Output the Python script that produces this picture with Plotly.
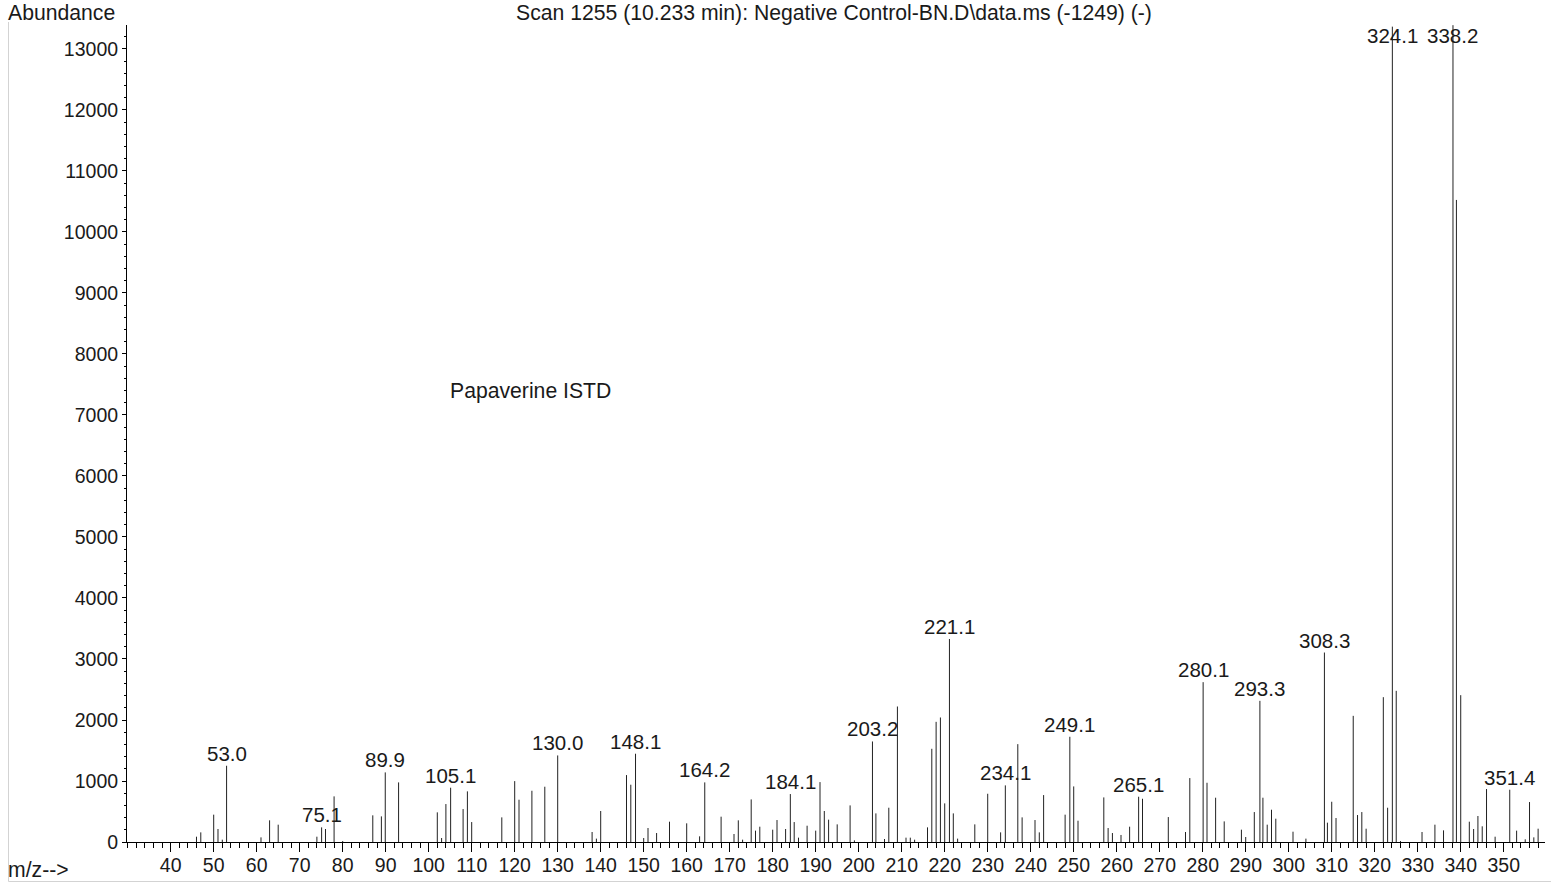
import plotly.graph_objects as go

# Mass spectrum, scan 1255 (10.233 min)
mz = [46, 47, 50, 51, 52, 53.0, 61, 63, 65, 74, 75.1, 76, 78, 80, 87, 89, 89.9, 93,
      102, 103, 104, 105.1, 108, 109, 110, 117, 120, 121, 124, 127, 130.0, 138, 139,
      140, 146, 147, 148.1, 150, 151, 153, 156, 160, 163, 164.2, 168, 171, 172, 173,
      175, 176, 177, 180, 181, 183, 184.1, 185, 186, 188, 190, 191, 192, 193, 195,
      198, 199, 203.2, 204, 206, 207, 209, 211, 212, 213, 216, 217, 218, 219, 220,
      221.1, 222, 223, 227, 230, 233, 234.1, 237, 238, 241, 242, 243, 248, 249.1,
      250, 251, 257, 258, 259, 261, 263, 265.1, 266, 272, 276, 277, 280.1, 281, 283,
      285, 289, 290, 292, 293.3, 294, 295, 296, 297, 301, 304, 308.3, 309, 310, 311,
      315, 316, 317, 318, 322, 323, 324.1, 325, 326, 331, 334, 336, 338.2, 339, 340,
      342, 343, 344, 345, 346, 348, 351.4, 353, 355, 356, 357, 358]
abundance = [87, 158, 448, 213, 38, 1250, 76, 355, 284, 87, 240, 213, 748, 16, 437, 420,
             1141, 977, 486, 65, 622, 890, 540, 830, 327, 404, 998, 693, 840, 906, 1419,
             164, 55, 508, 1097, 939, 1447, 65, 229, 147, 333, 306, 93, 977, 415, 131,
             355, 38, 698, 186, 251, 202, 360, 213, 786, 327, 71, 267, 186, 982, 508,
             366, 289, 600, 27, 1648, 469, 49, 562, 2221, 71, 71, 38, 240, 1528, 1970,
             2041, 633, 3328, 469, 55, 289, 791, 158, 928, 1604, 404, 360, 158, 769,
             448, 1725, 911, 349, 731, 229, 147, 115, 251, 742, 709, 409, 164, 1048,
             2620, 971, 726, 338, 202, 82, 491, 2314, 726, 284, 529, 382, 169, 55, 3106,
             317, 660, 393, 2068, 442, 491, 218, 2374, 562, 13366, 2478, 16, 164, 284,
             191, 13390, 10525, 2407, 333, 213, 426, 257, 868, 87, 857, 186, 44, 655,
             76, 218]

# Peaks annotated with their m/z
labeled_mz = [53.0, 75.1, 89.9, 105.1, 130.0, 148.1, 164.2, 184.1, 203.2, 221.1, 234.1,
              249.1, 265.1, 280.1, 293.3, 308.3, 324.1, 338.2, 351.4]

x_ticks = list(range(40, 351, 10))
y_ticks = list(range(0, 13001, 1000))

X_RANGE = [29.84, 359.6]
Y_RANGE = [0, 13393]
LABEL_CAP = 13010  # labels of off-scale peaks sit just under the top edge

FONT = "Liberation Sans, Arial, Helvetica, sans-serif"
FS_TICK = 19.5
FS_PEAK = 20.5
FS_TEXT = 21.2
INK = "#1a1a1a"
W, H = 1551, 888
ML, MR, MT, MB = 127, 6, 25, 46
pw, ph = W - ML - MR, H - MT - MB


def px_to_paper_x(px):
    return (px - ML) / pw


def px_to_paper_y(py):
    return (H - MB - py) / ph


# stick spectrum: one vertical segment per peak
xs, ys = [], []
for m, a in zip(mz, abundance):
    xs += [m, m, None]
    ys += [0, a, None]

fig = go.Figure(go.Scatter(x=xs, y=ys, mode="lines",
                           line=dict(color="#222222", width=1),
                           hoverinfo="skip", showlegend=False))

peak_height = dict(zip(mz, abundance))
annotations = []
for m in labeled_mz:
    annotations.append(dict(x=m, y=min(peak_height[m], LABEL_CAP), xref="x", yref="y",
                            text=f"{m:.1f}", showarrow=False, xanchor="center",
                            yanchor="bottom", yshift=-1,
                            font=dict(family=FONT, size=FS_PEAK, color=INK)))


def page_text(text, px, py, anchor):
    return dict(x=px_to_paper_x(px), y=px_to_paper_y(py), xref="paper", yref="paper",
                text=text, showarrow=False, xanchor=anchor, yanchor="middle",
                font=dict(family=FONT, size=FS_TEXT, color=INK))


annotations += [
    page_text("Abundance", 6, 12.5, "left"),
    page_text("Scan 1255 (10.233 min): Negative Control-BN.D\\data.ms (-1249) (-)",
              834, 13, "center"),
    page_text("m/z-->", 6, 869.5, "left"),
    dict(x=104.4, y=7400, xref="x", yref="y", text="Papaverine ISTD",
         showarrow=False, xanchor="left", yanchor="middle",
         font=dict(family=FONT, size=FS_TEXT, color=INK)),
]

# light frame on the left and bottom of the page
frame = "#d3d3d3"
shapes = [
    dict(type="line", xref="paper", yref="paper",
         x0=px_to_paper_x(8.5), x1=px_to_paper_x(8.5),
         y0=px_to_paper_y(22), y1=px_to_paper_y(881.5),
         line=dict(color=frame, width=1)),
    dict(type="line", xref="paper", yref="paper",
         x0=px_to_paper_x(8.5), x1=px_to_paper_x(W),
         y0=px_to_paper_y(881.5), y1=px_to_paper_y(881.5),
         line=dict(color=frame, width=1)),
]

axis_common = dict(showgrid=False, zeroline=False, showline=True, linecolor="#000000",
                   linewidth=1, ticks="outside", tickcolor="#000000", tickwidth=1,
                   tickfont=dict(family=FONT, size=FS_TICK, color=INK), tickmode="array")

fig.update_layout(
    width=W, height=H,
    margin=dict(l=ML, r=MR, t=MT, b=MB, pad=0),
    paper_bgcolor="white", plot_bgcolor="white",
    xaxis=dict(range=X_RANGE, tickvals=x_ticks, ticktext=[str(v) for v in x_ticks],
               ticklen=9, ticklabelstandoff=-3,
               minor=dict(dtick=2, tick0=0, ticks="outside", ticklen=5,
                          tickcolor="#000000", tickwidth=1),
               **axis_common),
    yaxis=dict(range=Y_RANGE, tickvals=y_ticks, ticktext=[str(v) for v in y_ticks],
               ticklen=4, minor=dict(dtick=200, tick0=0, ticks="outside", ticklen=2,
                                     tickcolor="#000000", tickwidth=1),
               **axis_common),
    annotations=annotations,
    shapes=shapes,
    showlegend=False,
)

fig.write_html("out.html")
